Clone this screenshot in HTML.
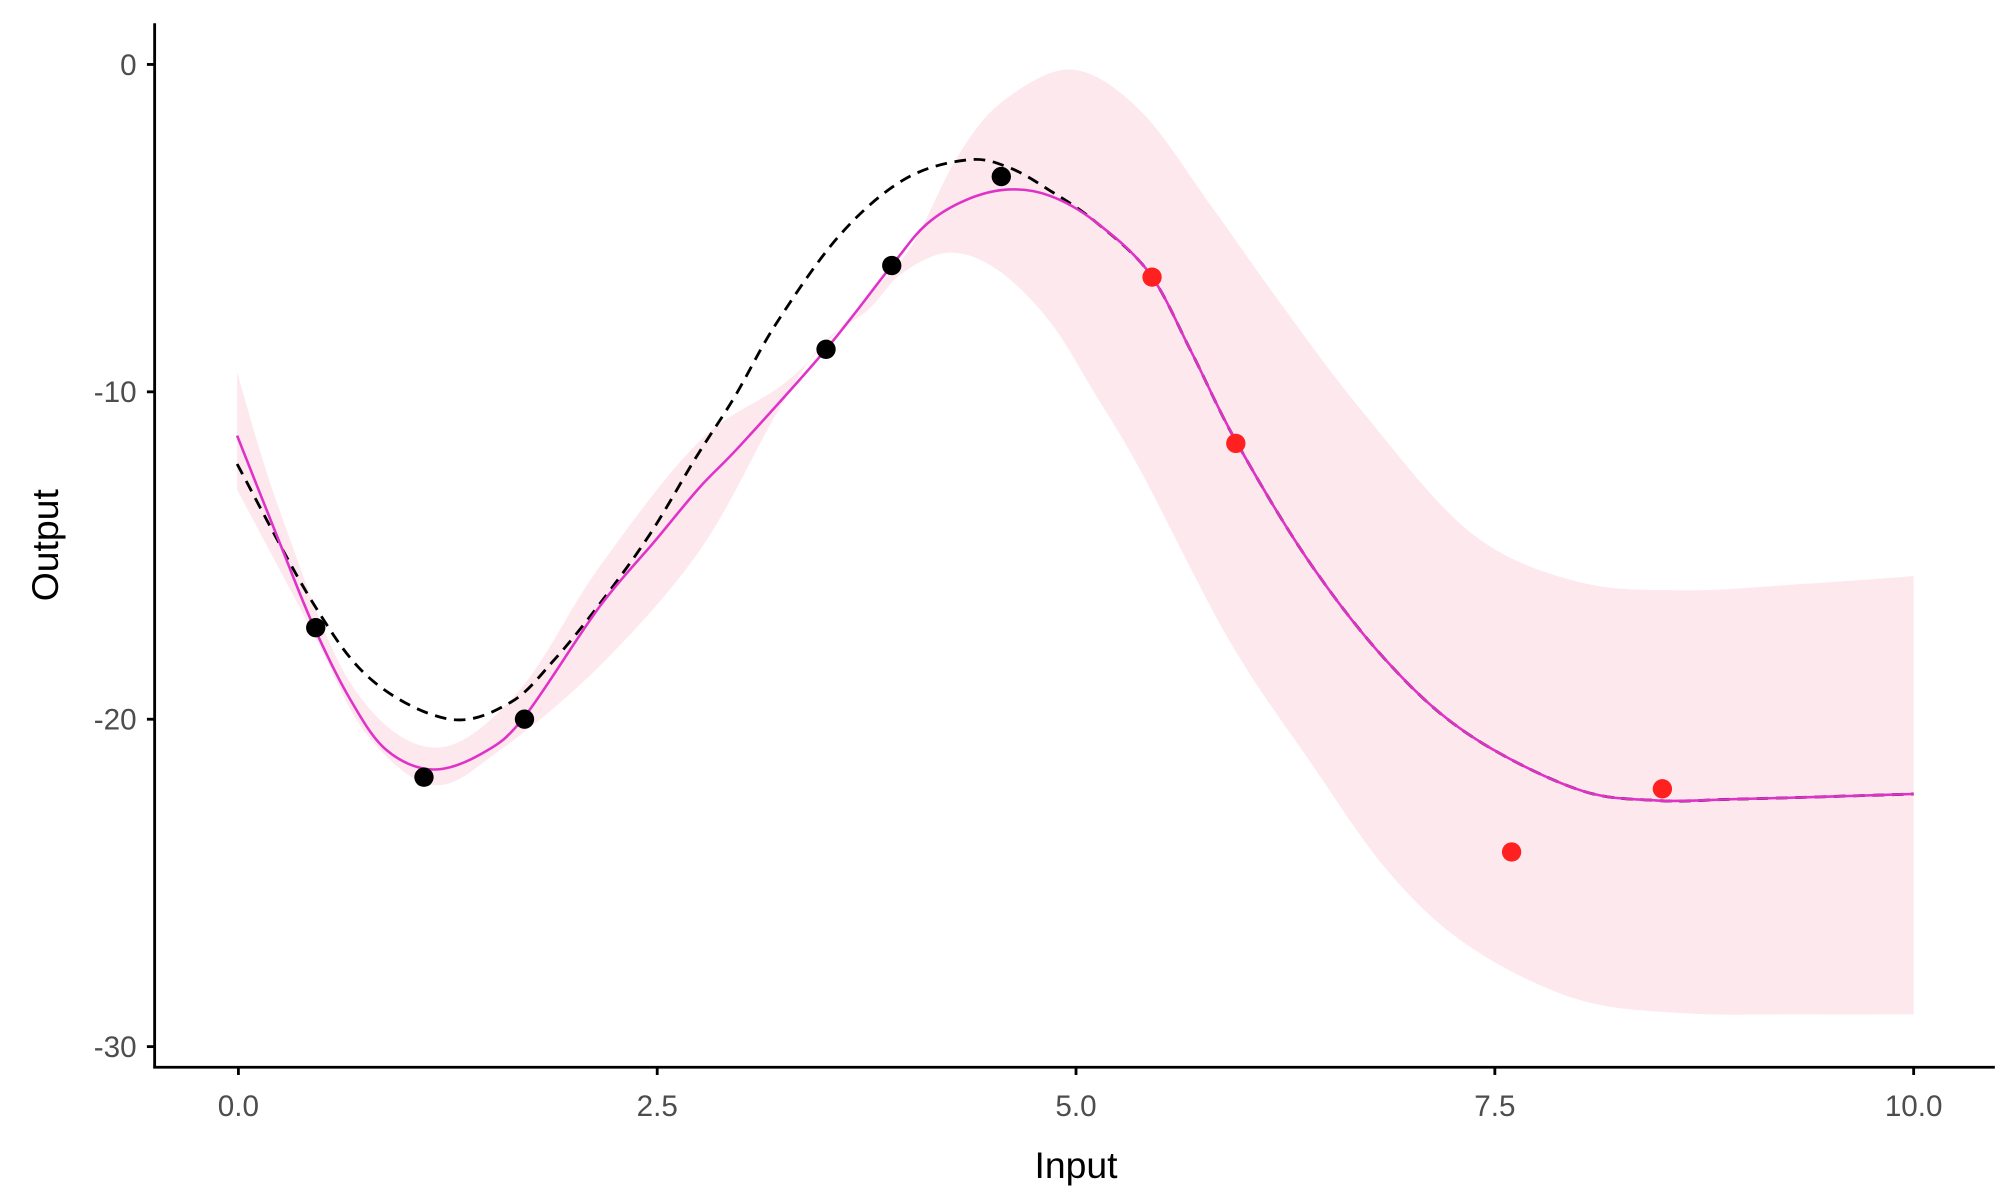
<!DOCTYPE html>
<html><head><meta charset="utf-8"><style>
html,body{margin:0;padding:0;background:#fff;width:2000px;height:1200px;overflow:hidden}
svg{display:block}
text{font-family:"Liberation Sans",sans-serif}
</style></head><body>
<svg id="s" width="2000" height="1200" viewBox="0 0 1552 931" preserveAspectRatio="none">
<path id="rib" fill="#fde8ee" stroke="none"/>
<path id="dash" fill="none" stroke="#000" stroke-width="2.2" stroke-dasharray="9,6"/>
<path id="mag" fill="none" stroke="#e032c8" stroke-width="2"/>
<g fill="#000">
<circle cx="245" cy="487" r="7.5"/><circle cx="329" cy="603" r="7.5"/><circle cx="407" cy="558" r="7.5"/>
<circle cx="641" cy="271" r="7.5"/><circle cx="692" cy="206" r="7.5"/><circle cx="777" cy="137" r="7.5"/>
</g>
<g fill="#ff2020">
<circle cx="894" cy="215" r="7.5"/><circle cx="959" cy="344" r="7.5"/><circle cx="1173" cy="661" r="7.5"/><circle cx="1290" cy="612" r="7.5"/>
</g>
<g stroke="#000" stroke-width="2.2">
<line x1="120" y1="18" x2="120" y2="829"/><line x1="119" y1="828" x2="1548" y2="828"/>
<line x1="114" y1="50" x2="120" y2="50"/><line x1="114" y1="304" x2="120" y2="304"/>
<line x1="114" y1="558" x2="120" y2="558"/><line x1="114" y1="812" x2="120" y2="812"/>
<line x1="185" y1="828" x2="185" y2="834"/><line x1="510" y1="828" x2="510" y2="834"/>
<line x1="835" y1="828" x2="835" y2="834"/><line x1="1160" y1="828" x2="1160" y2="834"/>
<line x1="1485" y1="828" x2="1485" y2="834"/>
</g>
<g fill="#4d4d4d" font-size="23" text-anchor="end">
<text x="106" y="58">0</text><text x="106" y="312">-10</text><text x="106" y="566">-20</text><text x="106" y="820">-30</text>
</g>
<g fill="#4d4d4d" font-size="23" text-anchor="middle">
<text x="185" y="866">0.0</text><text x="510" y="866">2.5</text><text x="835" y="866">5.0</text><text x="1160" y="866">7.5</text><text x="1485" y="866">10.0</text>
</g>
<text x="835" y="914" font-size="29" text-anchor="middle">Input</text>
<text transform="translate(45,423) rotate(-90)" font-size="29" text-anchor="middle">Output</text>
</svg>
<script>
function cr(p){let d="M"+p[0][0]+","+p[0][1];for(let i=0;i<p.length-1;i++){const a=p[Math.max(i-1,0)],b=p[i],c=p[i+1],e=p[Math.min(i+2,p.length-1)];
d+=" C"+(b[0]+(c[0]-a[0])/6)+","+(b[1]+(c[1]-a[1])/6)+" "+(c[0]-(e[0]-b[0])/6)+","+(c[1]-(e[1]-b[1])/6)+" "+c[0]+","+c[1];}return d;}
const tail=[[925,274],[959,342],[1016,436],[1078,515],[1140,570],[1223,612],[1285,621],[1347,620],[1420,618],[1485,616]];
const mag=[[184,338],[217,421],[243,485],[272,543],[300,582],[336,597],[375,584],[407,556],[465,471],[508,420],[543,378],[575,345],[641,271],[692,206],[719,174],[750,155],[783,147],[815,152],[850,172],[892,212]].concat(tail);
const dash=[[184,360],[243,468],[289,528],[349,558],[396,545],[430,512],[465,469],[504,415],[540,355],[570,308],[603,250],[652,182],[702,139],[751,124],[783,130],[815,148],[850,172],[892,212]].concat(tail);
const up=[[184,289],[217,396],[272,530],[336,580],[401,538],[465,440],[543,342],[614,293],[680,223],[709,188],[744,120],[779,78],[832,54],[885,86],[940,160],[992,233],[1057,319],[1141,413],[1223,451],[1306,458],[1400,453],[1485,447]];
const lo=[[1485,787],[1400,787],[1306,786],[1223,775],[1140,734],[1078,677],[1016,590],[954,497],[885,365],[850,306],[815,250],[775,210],[737,196],[700,212],[673,241],[638,267],[603,320],[543,427],[465,517],[388,582],[336,609],[284,569],[243,491],[184,380]];
document.getElementById("mag").setAttribute("d",cr(mag));
document.getElementById("dash").setAttribute("d",cr(dash));
document.getElementById("rib").setAttribute("d",cr(up)+" L"+cr(lo).slice(1)+" Z");
</script>
</body></html>
